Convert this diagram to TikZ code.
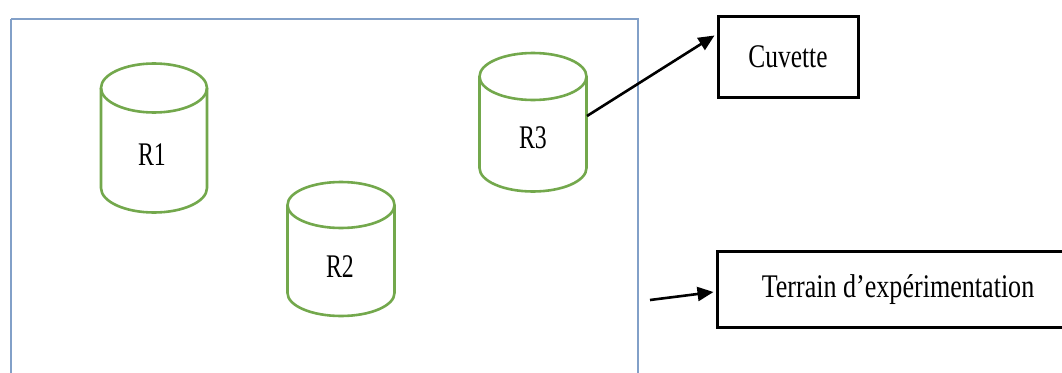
\documentclass[tikz,border=0pt]{standalone}
\usepackage{fontspec}
\setmainfont{Liberation Serif}
\usetikzlibrary{arrows.meta,calc}

\definecolor{fieldblue}{RGB}{130,160,200}
\definecolor{tankgreen}{RGB}{115,168,76}

\tikzset{
  tank/.style={draw=tankgreen, line width=2.6pt},
  field/.style={draw=fieldblue, line width=2.2pt},
  label/.style={inner sep=0pt, font=\fontsize{33}{38}\selectfont},
  boxed/.style={draw=black, line width=3pt, inner sep=0pt},
  link/.style={draw=black, line width=2.6pt, -{Triangle[length=16pt,width=14pt]}}
}

% tank: cx, top ellipse cy, bottom ellipse cy, rx, ry
\newcommand\drawtank[5]{%
  \draw[tank] (#1-#4,#2) -- (#1-#4,#3)
    arc[start angle=180, end angle=360, x radius=#4pt, y radius=#5pt]
    -- (#1+#4,#2);
  \draw[tank] (#1,#2) ellipse [x radius=#4pt, y radius=#5pt];
}

\begin{document}
\begin{tikzpicture}[x=1pt,y=-1pt]
  \clip (0,0) rectangle (1062,372);
  \fill[white] (0,0) rectangle (1062,372);

  % experimental plot
  \draw[field] (11,19) -- (11,380) (11,19) -- (638,19) -- (638,380);

  % tanks
  \drawtank{154}{88}{188}{53}{24.5}
  \drawtank{341}{205}{293}{53.5}{23}
  \drawtank{533}{76.5}{168}{53.5}{23.5}

  \node[label] (R1) at (152,155) {\scalebox{0.72}[1]{R1}};
  \node[label] (R2) at (340,267) {\scalebox{0.72}[1]{R2}};
  \node[label] (R3) at (533,138) {\scalebox{0.72}[1]{R3}};

  % legend boxes
  \node[boxed, minimum width=140pt, minimum height=81pt] (cuv) at (788,56.5) {};
  \node[label] (cuvtxt) at (788,57) {\scalebox{0.77}[1]{Cuvette}};

  \node[boxed, minimum width=362pt, minimum height=76pt] (ter) at (898,289) {};
  \node[label] (tertxt) at (898,290) {\scalebox{0.79}[1]{Terrain d’expérimentation}};

  % arrows
  \coordinate (r3port) at (587,116);
  \coordinate (fieldport) at (650,300);
  \draw[link] (r3port) -- ($(cuv.north west)+(-2,21)$);
  \draw[link] (fieldport) -- ($(ter.west)+(-2,3)$);
\end{tikzpicture}
\end{document}
